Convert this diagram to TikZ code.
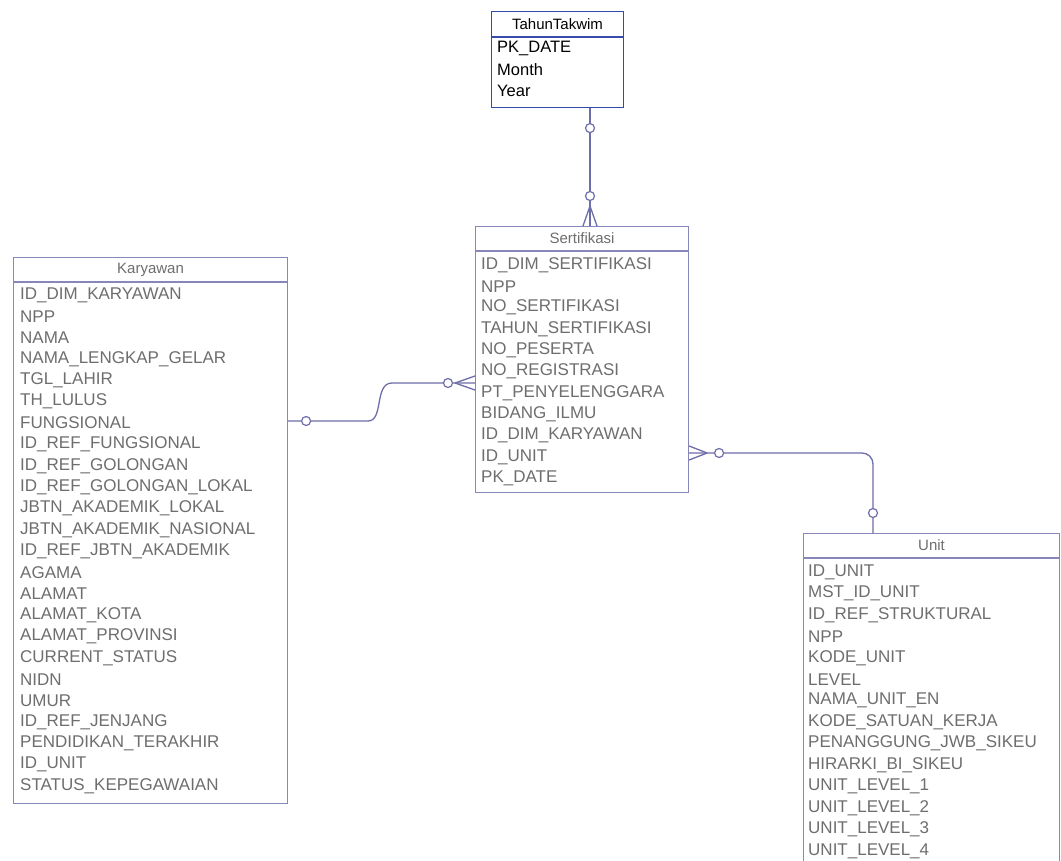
\documentclass[tikz,border=0pt]{standalone}
\usepackage{fontspec}
\setmainfont{Liberation Sans}
\usetikzlibrary{calc}
\definecolor{boxfade}{RGB}{135,135,185}
\definecolor{boxblue}{RGB}{55,75,170}
\definecolor{txtfade}{RGB}{110,110,110}
\definecolor{connc}{RGB}{110,110,170}
\tikzset{
  tblbox/.style={draw=boxfade, line width=1.1pt, inner sep=0pt, anchor=north west},
  tblboxdark/.style={draw=boxblue, line width=1.1pt, inner sep=0pt, anchor=north west},
  hdrline/.style={draw=boxfade, line width=1.1pt},
  hdrlinedark/.style={draw=boxblue, line width=1.1pt},
  ttl/.style={font=\fontsize{15}{18}\selectfont, text=txtfade, inner sep=0pt},
  ttldark/.style={font=\fontsize{15}{18}\selectfont, text=black, inner sep=0pt},
  fld/.style={font=\fontsize{17}{20}\selectfont, text=txtfade, inner sep=0pt, anchor=west},
  flddark/.style={font=\fontsize{16.5}{20}\selectfont, text=black, inner sep=0pt, anchor=west},
  conn/.style={draw=connc, line width=1.3pt},
  opt/.style={circle, draw=connc, line width=1.2pt, fill=white, minimum size=9pt, inner sep=0pt},
}
\begin{document}
\begin{tikzpicture}[x=1pt,y=-1pt]
\useasboundingbox (0,0) rectangle (1061,861);
\fill[white] (0,0) rectangle (1061,861);

% ---- TahunTakwim
\node[tblboxdark, minimum width=132pt, minimum height=96pt] (tahun) at (491,11) {};
\draw[hdrlinedark] ($(tahun.north west)+(0,26)$) -- ($(tahun.north east)+(0,26)$);
\node[ttldark] (tahun-t) at ($(tahun.north)+(0,13)$) {TahunTakwim};
\foreach \t [count=\i] in {PK\_DATE,Month,Year}
  \node[flddark] (tahun-\i) at (497,{48+(\i-1)*21.4}) {\t};

% ---- Sertifikasi
\node[tblbox, minimum width=213pt, minimum height=266pt] (sert) at (475,226) {};
\draw[hdrline] ($(sert.north west)+(0,25)$) -- ($(sert.north east)+(0,25)$);
\node[ttl] (sert-t) at ($(sert.north)+(0,12.5)$) {Sertifikasi};
\foreach \t [count=\i] in {ID\_DIM\_SERTIFIKASI,NPP,NO\_SERTIFIKASI,TAHUN\_SERTIFIKASI,NO\_PESERTA,NO\_REGISTRASI,PT\_PENYELENGGARA,BIDANG\_ILMU,ID\_DIM\_KARYAWAN,ID\_UNIT,PK\_DATE}
  \node[fld] (sert-\i) at (481,{265+(\i-1)*21.35}) {\t};

% ---- Karyawan
\node[tblbox, minimum width=274pt, minimum height=546pt] (kary) at (13,257) {};
\draw[hdrline] ($(kary.north west)+(0,25)$) -- ($(kary.north east)+(0,25)$);
\node[ttl] (kary-t) at ($(kary.north)+(0,12.5)$) {Karyawan};
\foreach \t [count=\i] in {ID\_DIM\_KARYAWAN,NPP,NAMA,NAMA\_LENGKAP\_GELAR,TGL\_LAHIR,TH\_LULUS,FUNGSIONAL,ID\_REF\_FUNGSIONAL,ID\_REF\_GOLONGAN,ID\_REF\_GOLONGAN\_LOKAL,JBTN\_AKADEMIK\_LOKAL,JBTN\_AKADEMIK\_NASIONAL,ID\_REF\_JBTN\_AKADEMIK,AGAMA,ALAMAT,ALAMAT\_KOTA,ALAMAT\_PROVINSI,CURRENT\_STATUS,NIDN,UMUR,ID\_REF\_JENJANG,PENDIDIKAN\_TERAKHIR,ID\_UNIT,STATUS\_KEPEGAWAIAN}
  \node[fld] (kary-\i) at (20,{295+(\i-1)*21.35}) {\t};

% ---- Unit (runs past the bottom edge)
\node[tblbox, minimum width=256pt, minimum height=340pt] (unit) at (803,533) {};
\draw[hdrline] ($(unit.north west)+(0,25)$) -- ($(unit.north east)+(0,25)$);
\node[ttl] (unit-t) at ($(unit.north)+(0,12.5)$) {Unit};
\foreach \t [count=\i] in {ID\_UNIT,MST\_ID\_UNIT,ID\_REF\_STRUKTURAL,NPP,KODE\_UNIT,LEVEL,NAMA\_UNIT\_EN,KODE\_SATUAN\_KERJA,PENANGGUNG\_JWB\_SIKEU,HIRARKI\_BI\_SIKEU,UNIT\_LEVEL\_1,UNIT\_LEVEL\_2,UNIT\_LEVEL\_3,UNIT\_LEVEL\_4}
  \node[fld] (unit-\i) at (808,{572+(\i-1)*21.45}) {\t};

% ---- connector anchors
\coordinate (cx1) at (590,0);
\coordinate (cy1) at (0,383);
\coordinate (cy2) at (0,421);
\coordinate (cy3) at (0,453);
\coordinate (cx3) at (873,0);

% TahunTakwim -- Sertifikasi
\draw[conn] (tahun.south -| cx1) -- (sert.north -| cx1);
\draw[conn] ($(sert.north -| cx1)+(0,-20)$) -- ($(sert.north -| cx1)+(-7,0)$);
\draw[conn] ($(sert.north -| cx1)+(0,-20)$) -- ($(sert.north -| cx1)+(7,0)$);
\node[opt] (o1) at ($(tahun.south -| cx1)+(0,20)$) {};
\node[opt] (o2) at ($(sert.north -| cx1)+(0,-30)$) {};

% Karyawan -- Sertifikasi
\draw[conn] (kary.east |- cy2) -- (368,421) .. controls (384,421) and (374,383) .. (392,383) -- (sert.west |- cy1);
\draw[conn] ($(sert.west |- cy1)+(-20,0)$) -- ($(sert.west |- cy1)+(0,-7)$);
\draw[conn] ($(sert.west |- cy1)+(-20,0)$) -- ($(sert.west |- cy1)+(0,7)$);
\node[opt] (o3) at ($(kary.east |- cy2)+(18,0)$) {};
\node[opt] (o4) at ($(sert.west |- cy1)+(-27,0)$) {};

% Sertifikasi -- Unit
\draw[conn, rounded corners=11pt] (sert.east |- cy3) -- (cx3 |- cy3) -- (unit.north -| cx3);
\draw[conn] ($(sert.east |- cy3)+(18,0)$) -- ($(sert.east |- cy3)+(0,-7)$);
\draw[conn] ($(sert.east |- cy3)+(18,0)$) -- ($(sert.east |- cy3)+(0,7)$);
\node[opt] (o5) at ($(sert.east |- cy3)+(30,0)$) {};
\node[opt] (o6) at ($(unit.north -| cx3)+(0,-20)$) {};
\end{tikzpicture}
\end{document}
